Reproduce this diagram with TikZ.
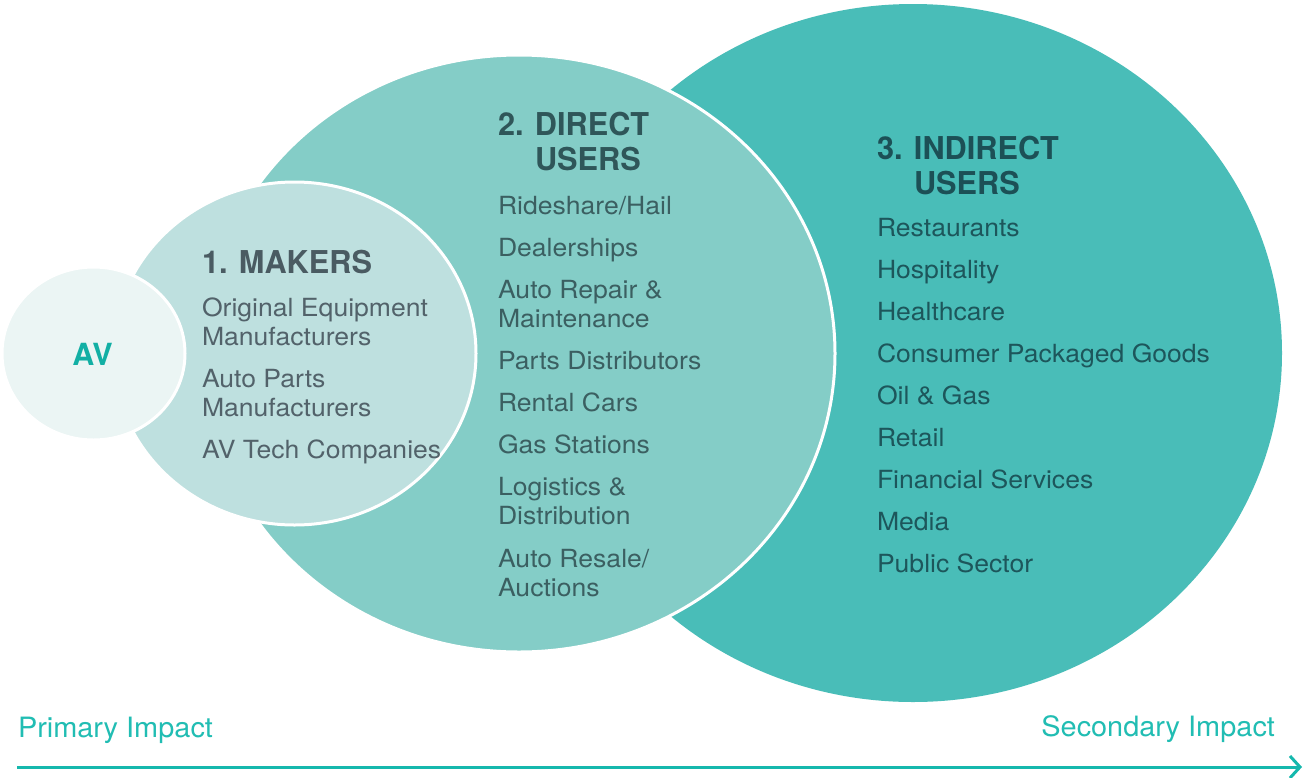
\documentclass[tikz,border=0pt]{standalone}
\usepackage{fontspec}
\setmainfont{TeX Gyre Heros}
\usepackage{graphicx}
\usetikzlibrary{shapes.geometric,arrows.meta}

% palette
\definecolor{avfill}{HTML}{EBF5F4}
\definecolor{makersfill}{HTML}{BEE0DF}
\definecolor{directfill}{HTML}{84CDC7}
\definecolor{indirectfill}{HTML}{49BDB8}
\definecolor{avtext}{HTML}{12AFA4}
\definecolor{makerstitle}{HTML}{4A5B62}
\definecolor{makersitem}{HTML}{52626A}
\definecolor{directtitle}{HTML}{2F5659}
\definecolor{directitem}{HTML}{3B5F61}
\definecolor{indirecttitle}{HTML}{1C5056}
\definecolor{indirectitem}{HTML}{1D565B}
\definecolor{impacttext}{HTML}{21BDB3}
\definecolor{impactline}{HTML}{15B8AD}

% type sizes
\newcommand\itemsize{\fontsize{25}{30}\selectfont}
\newcommand\titlesize{\fontsize{31.5}{36}\selectfont\bfseries}
\newcommand\impactsize{\fontsize{28}{32}\selectfont}
\newcommand\avsize{\fontsize{30.5}{34}\selectfont\bfseries}

% horizontal set width of each text group, from a sample string
\newlength\natwidth
\newcommand\calcstretch[3]{%
  \settowidth\natwidth{#2}%
  \pgfmathsetmacro#1{#3/\natwidth}%
  \global\let#1#1}
\newcommand\itm[1]{\scalebox{\itemsx}[1]{#1}}
\newcommand\ttl[1]{\scalebox{\titlesx}[1]{#1}}
\newcommand\imp[1]{\scalebox{\impactsx}[1]{#1}}
\AtBeginDocument{%
  \calcstretch{\itemsx}{\itemsize Original Equipment}{226}%
  \calcstretch{\titlesx}{\titlesize 1. MAKERS}{170}%
  \calcstretch{\impactsx}{\impactsize Primary Impact}{195}}

\tikzset{
  blob/.style={ellipse, inner sep=0pt, outer sep=0pt},
  ring/.style={draw=white, line width=3pt},
  lbl/.style={inner sep=0pt, outer sep=0pt, anchor=base west},
  mkitem/.style={lbl, text=makersitem, font=\itemsize},
  dritem/.style={lbl, text=directitem, font=\itemsize},
  initem/.style={lbl, text=indirectitem, font=\itemsize},
  mktitle/.style={lbl, text=makerstitle, font=\titlesize},
  drtitle/.style={lbl, text=directtitle, font=\titlesize},
  intitle/.style={lbl, text=indirecttitle, font=\titlesize},
  impact/.style={inner sep=0pt, outer sep=0pt, text=impacttext, font=\impactsize},
}

\begin{document}
\begin{tikzpicture}[x=1pt, y=-1pt]
\fill[white] (0,0) rectangle (1304,777);
\useasboundingbox (0,0) rectangle (1304,777);

% the four nested circles, back to front
\node[blob, fill=indirectfill, minimum width=738pt, minimum height=698pt] (indirect) at (913,353) {};
\node[blob, ring, fill=directfill, minimum width=632pt, minimum height=597pt] (direct) at (519,353.5) {};
\node[blob, ring, fill=makersfill, minimum width=363pt, minimum height=343pt] (makers) at (294.5,353.5) {};
\node[blob, ring, fill=avfill, minimum width=183pt, minimum height=173pt] (av) at (93.5,353.5) {};

\node[inner sep=0pt, anchor=base, text=avtext, font=\avsize] (avlabel) at (92.5,365) {AV};

% 1. makers
\node[mktitle] (mkhead) at (202,273) {\ttl{1. MAKERS}};
\node[mkitem] (mk1) at (202,316) {\itm{Original Equipment}};
\node[mkitem] (mk2) at (202,345) {\itm{Manufacturers}};
\node[mkitem] (mk3) at (202,387) {\itm{Auto Parts}};
\node[mkitem] (mk4) at (202,416) {\itm{Manufacturers}};
\node[mkitem] (mk5) at (202,458) {\itm{AV Tech Companies}};

% 2. direct users
\node[drtitle] (drhead) at (498,135) {\ttl{2. DIRECT}};
\node[drtitle] (drhead2) at (535,170) {\ttl{USERS}};
\node[dritem] (dr1) at (498,214) {\itm{Rideshare/Hail}};
\node[dritem] (dr2) at (498,256) {\itm{Dealerships}};
\node[dritem] (dr3) at (498,298) {\itm{Auto Repair \&}};
\node[dritem] (dr4) at (498,327) {\itm{Maintenance}};
\node[dritem] (dr5) at (498,369) {\itm{Parts Distributors}};
\node[dritem] (dr6) at (498,411) {\itm{Rental Cars}};
\node[dritem] (dr7) at (498,453) {\itm{Gas Stations}};
\node[dritem] (dr8) at (498,495) {\itm{Logistics \&}};
\node[dritem] (dr9) at (498,524) {\itm{Distribution}};
\node[dritem] (dr10) at (498,567) {\itm{Auto Resale/}};
\node[dritem] (dr11) at (498,596) {\itm{Auctions}};

% 3. indirect users
\node[intitle] (inhead) at (877,159) {\ttl{3. INDIRECT}};
\node[intitle] (inhead2) at (914,194) {\ttl{USERS}};
\node[initem] (in1) at (877,236) {\itm{Restaurants}};
\node[initem] (in2) at (877,278) {\itm{Hospitality}};
\node[initem] (in3) at (877,320) {\itm{Healthcare}};
\node[initem] (in4) at (877,362) {\itm{Consumer Packaged Goods}};
\node[initem] (in5) at (877,404) {\itm{Oil \& Gas}};
\node[initem] (in6) at (877,446) {\itm{Retail}};
\node[initem] (in7) at (877,488) {\itm{Financial Services}};
\node[initem] (in8) at (877,530) {\itm{Media}};
\node[initem] (in9) at (877,572) {\itm{Public Sector}};

% impact axis
\node[impact, anchor=base west] (primary) at (18,737) {\imp{Primary Impact}};
\node[impact, anchor=base east] (secondary) at (1275,736) {\imp{Secondary Impact}};
\coordinate (axisstart) at (17,767);
\coordinate (axisend) at (1302,767);
\draw[impactline, line width=3pt, -{Straight Barb[length=10pt, width=22pt]}] (axisstart) -- (axisend);
\end{tikzpicture}
\end{document}
